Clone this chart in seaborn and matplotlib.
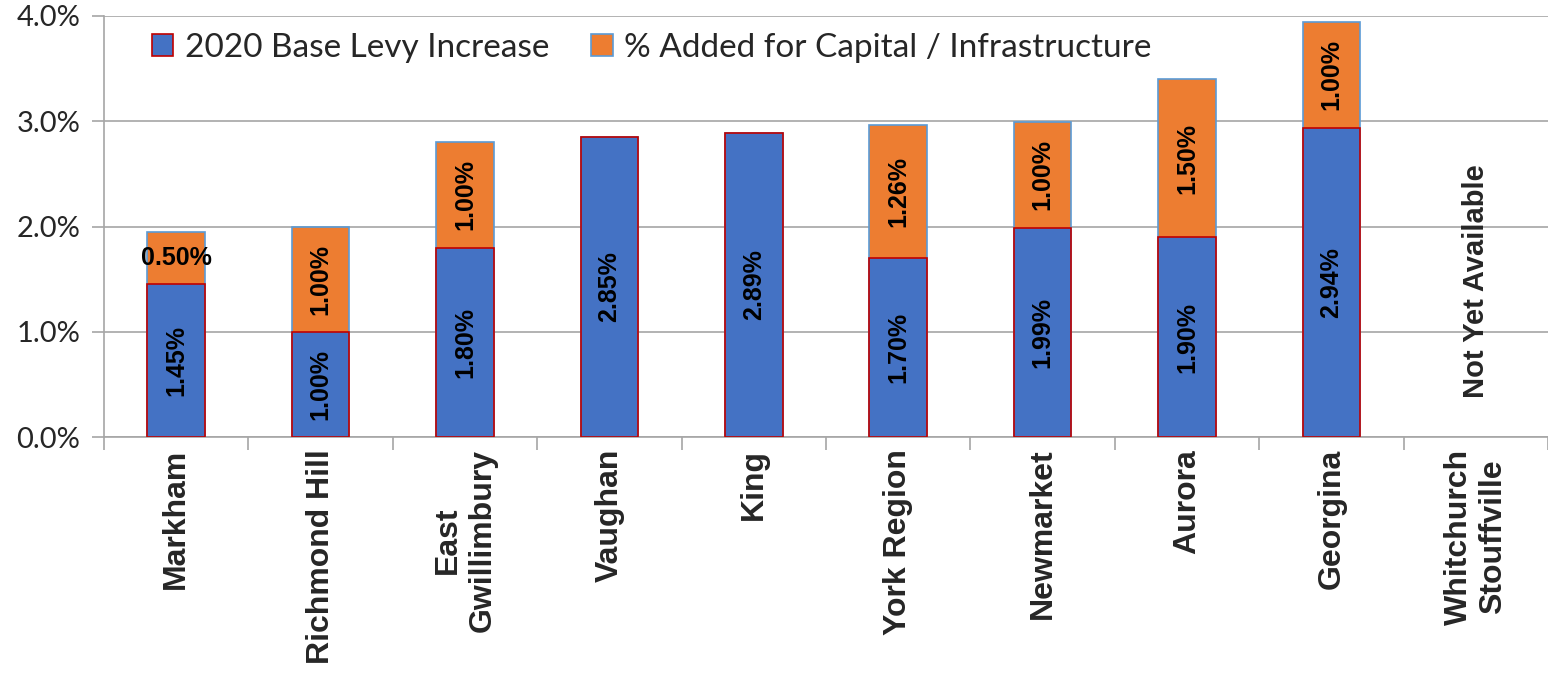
import numpy as np
import pandas as pd
import matplotlib
matplotlib.use("Agg")
import matplotlib.pyplot as plt
import seaborn as sns
from matplotlib.patches import Patch
from matplotlib.ticker import FuncFormatter, FixedLocator

municipalities = ["Markham", "Richmond Hill", "East\nGwillimbury", "Vaughan", "King",
                  "York Region", "Newmarket", "Aurora", "Georgina", "Whitchurch\nStouffville"]
base_levy = [1.45, 1.00, 1.80, 2.85, 2.89, 1.70, 1.99, 1.90, 2.94, np.nan]
capital_added = [0.50, 1.00, 1.00, 0.00, 0.00, 1.26, 1.00, 1.50, 1.00, np.nan]
not_available_note = "Not Yet Available"

blue = "#4472C4"
orange = "#ED7D31"
grid_gray = "#A6A6A6"

df = pd.DataFrame({"name": municipalities, "base": base_levy, "cap": capital_added})
df["total"] = df["base"] + df["cap"]

sns.set_style("white")
plt.rcParams["font.family"] = ["Liberation Sans", "DejaVu Sans"]

fig = plt.figure(figsize=(15.48, 6.73), dpi=100)
ax = fig.add_axes([104 / 1548, 1 - 437 / 673, 1 - 104 / 1548, 421 / 673])

# totals in orange, base drawn on top in blue -> stacked look
sns.barplot(data=df, x="name", y="total", color=orange, width=0.4,
            edgecolor="#5B9BD5", linewidth=1.2, saturation=1, ax=ax, zorder=2)
sns.barplot(data=df, x="name", y="base", color=blue, width=0.4,
            edgecolor="#C00000", linewidth=1.2, saturation=1, ax=ax, zorder=3)

lab_font = dict(fontweight="bold", fontsize=18, color="black", zorder=5)
for i, row in df.iterrows():
    if np.isnan(row["base"]):
        ax.text(i, 1.48, not_available_note, rotation=90, ha="center", va="center",
                fontweight="bold", fontsize=21)
        continue
    ax.text(i, row["base"] / 2, f"{row['base']:.2f}%", rotation=90,
            ha="center", va="center", **lab_font)
    if row["cap"] > 0:
        rot = 0 if i == 0 else 90
        ax.text(i, row["base"] + row["cap"] / 2, f"{row['cap']:.2f}%", rotation=rot,
                ha="center", va="center", **lab_font)

ax.set_ylim(0, 4.0)
ax.set_xlim(-0.5, len(municipalities) - 0.5)
ax.set_yticks([0, 1, 2, 3, 4])
ax.yaxis.set_major_formatter(FuncFormatter(lambda v, p: f"{v:.1f}%"))
ax.yaxis.grid(True, color=grid_gray, linewidth=1.2)
ax.set_axisbelow(True)
ax.set_xlabel("")
ax.set_ylabel("")

for s in ["top", "right"]:
    ax.spines[s].set_visible(False)
for s in ["left", "bottom"]:
    ax.spines[s].set_color(grid_gray)
    ax.spines[s].set_linewidth(1.2)

ax.tick_params(axis="y", left=True, length=9, color=grid_gray, width=1.2,
               labelsize=21, labelfontfamily="Lato", pad=8)
ax.set_xticks(range(len(municipalities)))
ax.set_xticklabels(municipalities, rotation=90, fontweight="bold", fontsize=23,
                   va="top", ha="center", multialignment="center")
ax.tick_params(axis="x", bottom=False, pad=5)
# boundary ticks between categories
ax.xaxis.set_minor_locator(FixedLocator(np.arange(-0.5, len(municipalities), 1.0)))
ax.tick_params(axis="x", which="minor", bottom=True, length=9, color=grid_gray, width=1.2)

handles = [Patch(facecolor=blue, edgecolor="#C00000", linewidth=1.2),
           Patch(facecolor=orange, edgecolor="#5B9BD5", linewidth=1.2)]
ax.legend(handles, ["2020 Base Levy Increase", "% Added for Capital / Infrastructure"],
          loc="center left", bbox_to_anchor=(0.033, 0.924), ncol=2, frameon=False,
          prop={"family": "Lato", "size": 24}, handlelength=0.65, handleheight=0.65,
          handletextpad=0.35, columnspacing=1.25, borderpad=0, borderaxespad=0)

fig.savefig("out.png", dpi=100)
